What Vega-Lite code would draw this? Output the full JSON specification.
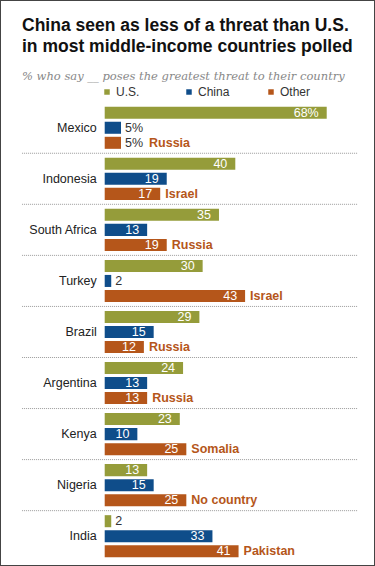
{
  "$schema": "https://vega.github.io/schema/vega-lite/v6.json",
  "width": 375,
  "height": 566,
  "autosize": {"type": "none"},
  "padding": 0,
  "background": "#ffffff",
  "config": {
    "view": {"stroke": "#444444", "strokeWidth": 2},
    "font": "Liberation Sans"
  },
  "title": {
    "text": ["China seen as less of a threat than U.S.", "in most middle-income countries polled"],
    "subtitle": "% who say __ poses the greatest threat to their country",
    "anchor": "start",
    "frame": "group",
    "orient": "top",
    "offset": -82,
    "dx": 22,
    "font": "Liberation Sans",
    "fontSize": 17.5,
    "fontWeight": "bold",
    "lineHeight": 21,
    "color": "#111111",
    "subtitleFont": "DejaVu Serif",
    "subtitleFontStyle": "italic",
    "subtitleFontSize": 11.5,
    "subtitleColor": "#888888",
    "subtitlePadding": 15
  },
  "datasets": {
    "main": [
      {"country": "Mexico", "series": "U.S.", "value": 68, "label": "68%", "name": null},
      {"country": "Mexico", "series": "China", "value": 5, "label": "5%", "name": null},
      {"country": "Mexico", "series": "Other", "value": 5, "label": "5%", "name": "Russia"},
      {"country": "Indonesia", "series": "U.S.", "value": 40, "label": "40", "name": null},
      {"country": "Indonesia", "series": "China", "value": 19, "label": "19", "name": null},
      {"country": "Indonesia", "series": "Other", "value": 17, "label": "17", "name": "Israel"},
      {"country": "South Africa", "series": "U.S.", "value": 35, "label": "35", "name": null},
      {"country": "South Africa", "series": "China", "value": 13, "label": "13", "name": null},
      {"country": "South Africa", "series": "Other", "value": 19, "label": "19", "name": "Russia"},
      {"country": "Turkey", "series": "U.S.", "value": 30, "label": "30", "name": null},
      {"country": "Turkey", "series": "China", "value": 2, "label": "2", "name": null},
      {"country": "Turkey", "series": "Other", "value": 43, "label": "43", "name": "Israel"},
      {"country": "Brazil", "series": "U.S.", "value": 29, "label": "29", "name": null},
      {"country": "Brazil", "series": "China", "value": 15, "label": "15", "name": null},
      {"country": "Brazil", "series": "Other", "value": 12, "label": "12", "name": "Russia"},
      {"country": "Argentina", "series": "U.S.", "value": 24, "label": "24", "name": null},
      {"country": "Argentina", "series": "China", "value": 13, "label": "13", "name": null},
      {"country": "Argentina", "series": "Other", "value": 13, "label": "13", "name": "Russia"},
      {"country": "Kenya", "series": "U.S.", "value": 23, "label": "23", "name": null},
      {"country": "Kenya", "series": "China", "value": 10, "label": "10", "name": null},
      {"country": "Kenya", "series": "Other", "value": 25, "label": "25", "name": "Somalia"},
      {"country": "Nigeria", "series": "U.S.", "value": 13, "label": "13", "name": null},
      {"country": "Nigeria", "series": "China", "value": 15, "label": "15", "name": null},
      {"country": "Nigeria", "series": "Other", "value": 25, "label": "25", "name": "No country"},
      {"country": "India", "series": "U.S.", "value": 2, "label": "2", "name": null},
      {"country": "India", "series": "China", "value": 33, "label": "33", "name": null},
      {"country": "India", "series": "Other", "value": 41, "label": "41", "name": "Pakistan"}
    ],
    "seps": [
      {"country": "Indonesia"}, {"country": "South Africa"}, {"country": "Turkey"},
      {"country": "Brazil"}, {"country": "Argentina"}, {"country": "Kenya"},
      {"country": "Nigeria"}, {"country": "India"}
    ]
  },
  "data": {"name": "main"},
  "encoding": {
    "y": {
      "field": "country",
      "type": "nominal",
      "scale": {
        "domain": ["Mexico", "Indonesia", "South Africa", "Turkey", "Brazil", "Argentina", "Kenya", "Nigeria", "India"],
        "range": [106.7, 557.3],
        "paddingInner": 0.175,
        "paddingOuter": 0
      },
      "axis": null
    }
  },
  "layer": [
    {
      "data": {"name": "seps"},
      "mark": {"type": "rule", "stroke": "#9a9a9a", "strokeWidth": 1, "strokeDash": [1, 1]},
      "encoding": {
        "y": {"field": "country", "type": "nominal", "bandPosition": -0.107},
        "x": {"datum": -25.3, "type": "quantitative", "scale": {"domain": [-32.07, 82.79], "nice": false, "zero": false}, "axis": null},
        "x2": {"datum": 77.6}
      }
    },
    {
      "mark": {"type": "bar"},
      "encoding": {
        "x": {"field": "value", "type": "quantitative"},
        "yOffset": {"field": "series", "type": "nominal", "scale": {"domain": ["U.S.", "China", "Other"], "paddingInner": 0.2, "paddingOuter": 0}},
        "color": {
          "field": "series",
          "type": "nominal",
          "scale": {"domain": ["U.S.", "China", "Other"], "range": ["#959c3a", "#0f4d8a", "#b5561a"]},
          "legend": {
            "title": null,
            "orient": "none",
            "legendX": 101,
            "legendY": 86,
            "direction": "horizontal",
            "gridAlign": "all",
            "symbolType": "square",
            "symbolSize": 30,
            "symbolStrokeWidth": 0,
            "labelFontSize": 12,
            "labelColor": "#333333",
            "labelFont": "Liberation Sans",
            "labelOffset": 3,
            "columnPadding": 35
          }
        }
      }
    },
    {
      "transform": [{"filter": "datum.value >= 10"}],
      "mark": {"type": "text", "align": "right", "baseline": "middle", "dx": -8, "fontSize": 12.5, "color": "#ffffff"},
      "encoding": {
        "x": {"field": "value", "type": "quantitative"},
        "yOffset": {"field": "series", "type": "nominal"},
        "text": {"field": "label"}
      }
    },
    {
      "transform": [{"filter": "datum.value < 10"}],
      "mark": {"type": "text", "align": "left", "baseline": "middle", "dx": 4, "fontSize": 12.5, "color": "#333333"},
      "encoding": {
        "x": {"field": "value", "type": "quantitative"},
        "yOffset": {"field": "series", "type": "nominal"},
        "text": {"field": "label"}
      }
    },
    {
      "transform": [{"filter": "datum.name != null && datum.value >= 10"}],
      "mark": {"type": "text", "align": "left", "baseline": "middle", "dx": 5, "fontSize": 12.5, "fontWeight": "bold", "color": "#b5561a"},
      "encoding": {
        "x": {"field": "value", "type": "quantitative"},
        "yOffset": {"field": "series", "type": "nominal"},
        "text": {"field": "name"}
      }
    },
    {
      "transform": [{"filter": "datum.name != null && datum.value < 10"}],
      "mark": {"type": "text", "align": "left", "baseline": "middle", "dx": 28, "fontSize": 12.5, "fontWeight": "bold", "color": "#b5561a"},
      "encoding": {
        "x": {"field": "value", "type": "quantitative"},
        "yOffset": {"field": "series", "type": "nominal"},
        "text": {"field": "name"}
      }
    },
    {
      "transform": [{"filter": "datum.series == 'China'"}],
      "mark": {"type": "text", "align": "right", "baseline": "middle", "dx": -8, "fontSize": 12.5, "color": "#222222"},
      "encoding": {
        "x": {"datum": 0, "type": "quantitative"},
        "text": {"field": "country"}
      }
    }
  ]
}
